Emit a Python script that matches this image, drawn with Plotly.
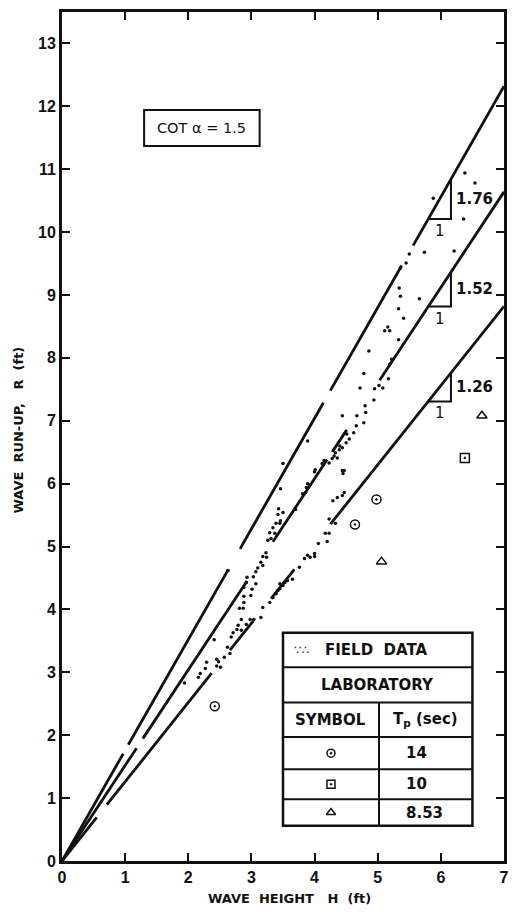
import plotly.graph_objects as go

# ---- field data: wave height H (ft) vs run-up R (ft) ----
field_H = [
    1.94, 2.16, 2.19, 2.27, 2.29, 2.45, 2.51, 2.45, 2.48, 2.57, 2.66, 2.62, 2.41,
    2.68, 2.71, 2.77, 2.84, 2.79, 2.92, 2.84, 2.98, 3.04, 2.81, 2.87, 2.88, 2.88,
    2.99, 3.01, 2.88, 2.92, 3.07, 2.93, 3.03, 3.07, 2.63, 3.10, 3.15, 3.18, 3.29,
    3.34, 3.39, 3.42, 3.45, 3.45, 3.50, 3.53, 3.57, 3.65, 3.76, 3.84, 3.93, 4.00,
    4.00, 3.89, 4.06, 4.20, 4.17, 4.23, 4.23, 4.33, 4.29, 4.36, 4.44, 4.47,
    3.15, 3.18, 3.18, 3.24, 3.23, 3.26, 3.31, 3.29, 3.37, 3.34, 3.39, 3.45, 3.46,
    3.42, 3.50, 3.43, 3.70, 3.46, 3.81, 3.86, 3.87, 3.89, 3.93, 4.00, 4.01, 3.50,
    3.89, 4.12, 4.15, 4.23, 4.28, 4.36, 4.31, 4.33, 4.39, 4.44, 4.40, 4.50, 4.55,
    4.51, 4.62, 4.66, 4.78, 4.44, 4.67, 4.81, 4.80, 4.94, 4.72, 4.95, 5.02, 5.08,
    4.78, 5.17, 5.19, 5.22, 4.86, 5.33, 5.11, 5.19, 5.16, 5.41, 5.33, 5.66, 5.36,
    5.34, 5.36, 5.45, 5.50, 5.74, 6.21, 6.36, 5.88, 6.54, 6.38, 4.44, 4.47, 4.45,
]
field_R = [
    2.83, 2.92, 2.98, 3.06, 3.16, 3.10, 3.08, 3.21, 3.17, 3.24, 3.30, 3.40, 3.52,
    3.56, 3.63, 3.68, 3.67, 3.75, 3.76, 3.84, 3.84, 3.84, 4.02, 4.02, 4.11, 4.21,
    4.22, 4.32, 4.35, 4.43, 4.41, 4.51, 4.52, 4.60, 4.62, 4.66, 3.87, 4.03, 4.11,
    4.19, 4.25, 4.30, 4.33, 4.41, 4.38, 4.43, 4.46, 4.48, 4.67, 4.81, 4.83, 4.84,
    4.89, 4.86, 5.05, 5.08, 5.21, 5.21, 5.44, 5.37, 5.73, 5.78, 5.81, 5.86,
    4.75, 4.70, 4.84, 4.83, 4.90, 5.10, 5.13, 5.22, 5.21, 5.30, 5.37, 5.37, 5.41,
    5.51, 5.54, 5.60, 5.59, 5.92, 5.84, 5.86, 5.94, 6.00, 5.98, 6.19, 6.22, 6.32,
    6.68, 6.32, 6.37, 6.33, 6.40, 6.41, 6.44, 6.49, 6.54, 6.57, 6.60, 6.65, 6.71,
    6.79, 6.81, 6.92, 6.97, 7.08, 7.08, 7.13, 7.24, 7.33, 7.52, 7.51, 7.56, 7.52,
    7.75, 7.67, 7.90, 7.98, 8.11, 8.29, 8.43, 8.43, 8.49, 8.63, 8.78, 8.94, 8.98,
    9.11, 9.43, 9.51, 9.65, 9.68, 9.70, 10.21, 10.54, 10.78, 10.94, 6.21, 6.21, 6.16,
]

# ---- laboratory data ----
lab_periods = ["14", "10", "8.53"]
lab_symbols = ["circle-open-dot", "square-open-dot", "triangle-up-open"]
lab_H = [[2.42, 4.64, 4.98], [6.38], [5.06, 6.65]]
lab_R = [[2.46, 5.35, 5.75], [6.41], [4.76, 7.08]]

# ---- envelope lines R = s * H ----
slopes = [1.76, 1.52, 1.26]
slope_labels = ["1.76", "1.52", "1.26"]
# drawn pieces (H ranges) of each long-dashed line
line_pieces = [
    [(0, 0.97), (1.05, 2.63), (2.82, 4.14), (4.25, 5.38), (5.56, 7.0)],
    [(0, 1.18), (1.28, 2.93), (3.34, 4.20), (4.28, 4.51), (5.03, 7.0)],
    [(0, 0.55), (0.71, 2.37), (2.66, 3.03), (3.31, 3.68), (4.25, 7.0)],
]

x_ticks = list(range(0, 8))
y_ticks = list(range(0, 14))

TICK_FONT = "Liberation Sans"
LABEL_FONT = "DejaVu Sans"
BLACK = "#111111"

fig = go.Figure()

for s, pieces in zip(slopes, line_pieces):
    xs, ys = [], []
    for a, b in pieces:
        xs += [a, b, None]
        ys += [s * a, s * b, None]
    fig.add_trace(go.Scatter(x=xs, y=ys, mode="lines",
                             line=dict(color=BLACK, width=2.8),
                             hoverinfo="skip", showlegend=False))

fig.add_trace(go.Scatter(x=field_H, y=field_R, mode="markers",
                         marker=dict(color=BLACK, size=3.5),
                         showlegend=False, name="Field data"))

for hx, ry, sym in zip(lab_H, lab_R, lab_symbols):
    fig.add_trace(go.Scatter(x=hx, y=ry, mode="markers",
                             marker=dict(symbol=sym, size=9, color=BLACK,
                                         line=dict(color=BLACK, width=1.5)),
                             showlegend=False))

shapes = []
annotations = []

# slope triangles on each envelope line
tri_x0, tri_w = 5.8, 0.36
for s, lab in zip(slopes, slope_labels):
    x0, x1 = tri_x0, tri_x0 + tri_w
    y0, y1 = s * x0, s * x1
    shapes.append(dict(type="path", xref="x", yref="y",
                       path=f"M {x0},{y0} L {x1},{y0} L {x1},{y1}",
                       line=dict(color=BLACK, width=2)))
    annotations.append(dict(x=x1, y=(y0 + y1) / 2, xref="x", yref="y",
                            text=lab, showarrow=False, xanchor="left",
                            xshift=3,
                            font=dict(family=LABEL_FONT, size=15, color=BLACK,
                                      weight="bold")))
    annotations.append(dict(x=(x0 + x1) / 2, y=y0, xref="x", yref="y",
                            text="1", showarrow=False, yanchor="top", yshift=-1,
                            font=dict(family=LABEL_FONT, size=15, color=BLACK)))

# side slope box
shapes.append(dict(type="rect", xref="x", yref="y", x0=1.3, x1=3.13,
                   y0=11.37, y1=11.94, line=dict(color=BLACK, width=2)))
annotations.append(dict(x=2.215, y=11.655, xref="x", yref="y",
                        text="COT α = 1.5", showarrow=False,
                        font=dict(family=LABEL_FONT, size=14.5, color=BLACK)))

# key table
tx0, txm, tx1 = 3.5, 5.02, 6.5
rows = [3.63, 3.08, 2.52, 1.97, 1.46, 0.98, 0.56]
shapes.append(dict(type="rect", xref="x", yref="y", x0=tx0, x1=tx1,
                   y0=rows[-1], y1=rows[0], line=dict(color=BLACK, width=2.5)))
for r in rows[1:-1]:
    shapes.append(dict(type="line", xref="x", yref="y", x0=tx0, x1=tx1,
                       y0=r, y1=r, line=dict(color=BLACK, width=2)))
shapes.append(dict(type="line", xref="x", yref="y", x0=txm, x1=txm,
                   y0=rows[-1], y1=rows[2], line=dict(color=BLACK, width=2)))

tfont = dict(family=LABEL_FONT, size=15, color=BLACK, weight="bold")
mid = lambda i: (rows[i] + rows[i + 1]) / 2
annotations.append(dict(x=4.13, y=mid(0), xref="x", yref="y",
                        text="FIELD  DATA", showarrow=False, xanchor="left",
                        font=tfont))
annotations.append(dict(x=3.94, y=mid(0), xref="x", yref="y",
                        text="∵∴", showarrow=False, xanchor="right",
                        font=dict(family=LABEL_FONT, size=12, color=BLACK)))
annotations.append(dict(x=(tx0 + tx1) / 2, y=mid(1), xref="x", yref="y",
                        text="LABORATORY", showarrow=False, font=tfont))
annotations.append(dict(x=(tx0 + txm) / 2, y=mid(2), xref="x", yref="y",
                        text="SYMBOL", showarrow=False, font=tfont))
annotations.append(dict(x=(txm + tx1) / 2, y=mid(2), xref="x", yref="y",
                        text="T<sub>p</sub> (sec)", showarrow=False, font=tfont))
key_x = [(tx0 + txm) / 2] * 3
key_y = [mid(3), mid(4), mid(5)]
for k, (per, sym) in enumerate(zip(lab_periods, lab_symbols)):
    annotations.append(dict(x=5.42, y=key_y[k], xref="x", yref="y",
                            text=per, showarrow=False,
                            xanchor="left", font=tfont))
    fig.add_trace(go.Scatter(x=[key_x[k]], y=[key_y[k]], mode="markers",
                             marker=dict(symbol=sym, size=8, color=BLACK,
                                         line=dict(color=BLACK, width=1.5)),
                             showlegend=False, hoverinfo="skip"))

# axis titles
title_font = dict(family=LABEL_FONT, size=13, color=BLACK, weight="bold")
annotations.append(dict(x=0.5, y=0, xref="paper", yref="paper",
                        text="WAVE  HEIGHT   H  (ft)", showarrow=False,
                        yanchor="middle", yshift=-37, xshift=6, font=title_font))
annotations.append(dict(x=0, y=0.5, xref="paper", yref="paper",
                        text="WAVE  RUN-UP,   R  (ft)", showarrow=False,
                        textangle=-90, xanchor="center", xshift=-44, yshift=6,
                        font=title_font))

axis_common = dict(showgrid=False, zeroline=False, showline=True, linewidth=3,
                   linecolor=BLACK, mirror="ticks", ticks="inside", ticklen=8,
                   tickwidth=2, tickcolor=BLACK,
                   tickfont=dict(family=TICK_FONT, size=16, color=BLACK,
                                 weight="bold"))

fig.update_layout(
    width=515, height=915,
    margin=dict(l=62, r=6, t=12, b=54),
    paper_bgcolor="white", plot_bgcolor="white",
    xaxis=dict(range=[0, 7], tickvals=x_ticks, **axis_common),
    yaxis=dict(range=[0, 13.5], tickvals=y_ticks, **axis_common),
    shapes=shapes, annotations=annotations,
    showlegend=False,
)

fig.write_html("out.html")
